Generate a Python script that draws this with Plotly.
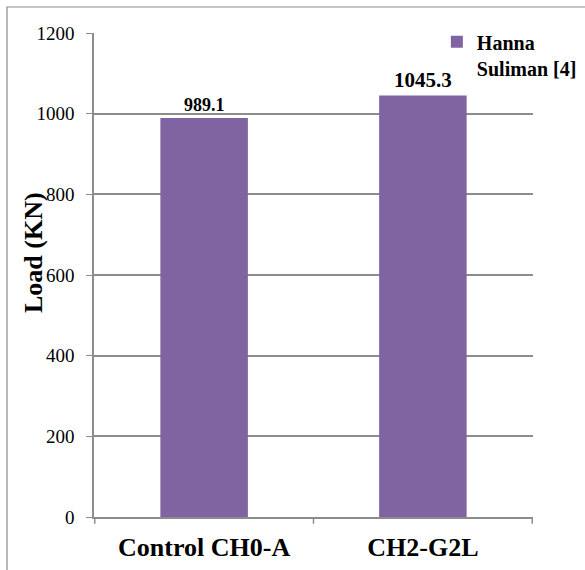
import plotly.graph_objects as go

categories = ["Control CH0-A", "CH2-G2L"]
loads = [989.1, 1045.3]
label_text = ["989.1", "1045.3"]
series_name = "Hanna<br>Suliman [4]"
y_ticks = [0, 200, 400, 600, 800, 1000, 1200]

FONT = "Liberation Serif"
PURPLE = "#8064A2"
GRID = "#8c8c8c"

fig = go.Figure()
fig.add_trace(go.Bar(
    x=categories, y=loads, name=series_name,
    marker=dict(color=PURPLE, line=dict(width=0)),
    width=0.4,
    text=label_text, textposition="outside", cliponaxis=False,
    textfont=dict(family=FONT, size=[18, 21], color="black", weight="bold"),
    showlegend=True,
))

fig.update_layout(
    width=585, height=570,
    margin=dict(l=94, r=52, t=33, b=53, autoexpand=False),
    paper_bgcolor="white", plot_bgcolor="white",
    font=dict(family=FONT, color="black"),
    showlegend=True,
    legend=dict(x=0.781, y=1.022, xanchor="left", yanchor="top", valign="top",
                font=dict(family=FONT, size=20, color="black", weight="bold"),
                bgcolor="rgba(0,0,0,0)", itemwidth=30, tracegroupgap=0),
    yaxis=dict(range=[0, 1200], tickvals=y_ticks, showgrid=True, gridcolor=GRID, gridwidth=1.5,
               showline=True, linecolor=GRID, linewidth=1.5, ticks="outside", ticklen=6,
               tickcolor=GRID, tickfont=dict(size=19, family=FONT), zeroline=False,
               ticklabelstandoff=8, automargin=False),
    xaxis=dict(showline=True, linecolor=GRID, linewidth=1.5, showgrid=False,
               tickfont=dict(size=26, family=FONT, weight="bold"), ticks="",
               ticklabelstandoff=6, automargin=False),
    bargap=0.6,
)

fig.add_annotation(text="Load (KN)", xref="paper", yref="paper",
                   x=(33 - 94) / 439, y=(517 - 253) / 484, textangle=-90,
                   showarrow=False, xanchor="center", yanchor="middle",
                   font=dict(family=FONT, size=26, color="black", weight="bold"))

# tick marks at category boundaries
for xv in [-0.5, 0.5, 1.5]:
    fig.add_shape(type="line", xref="x", yref="paper", x0=xv, x1=xv, y0=0, y1=-0.014,
                  line=dict(color=GRID, width=1.5))

# chart area border
fig.add_shape(type="rect", xref="paper", yref="paper",
              x0=(7 - 94) / 439, x1=1.3, y0=-0.3, y1=(517 - 7) / 484,
              line=dict(color="#8a8a8a", width=1.2), fillcolor="rgba(0,0,0,0)", layer="below")

fig.write_html("out.html")
